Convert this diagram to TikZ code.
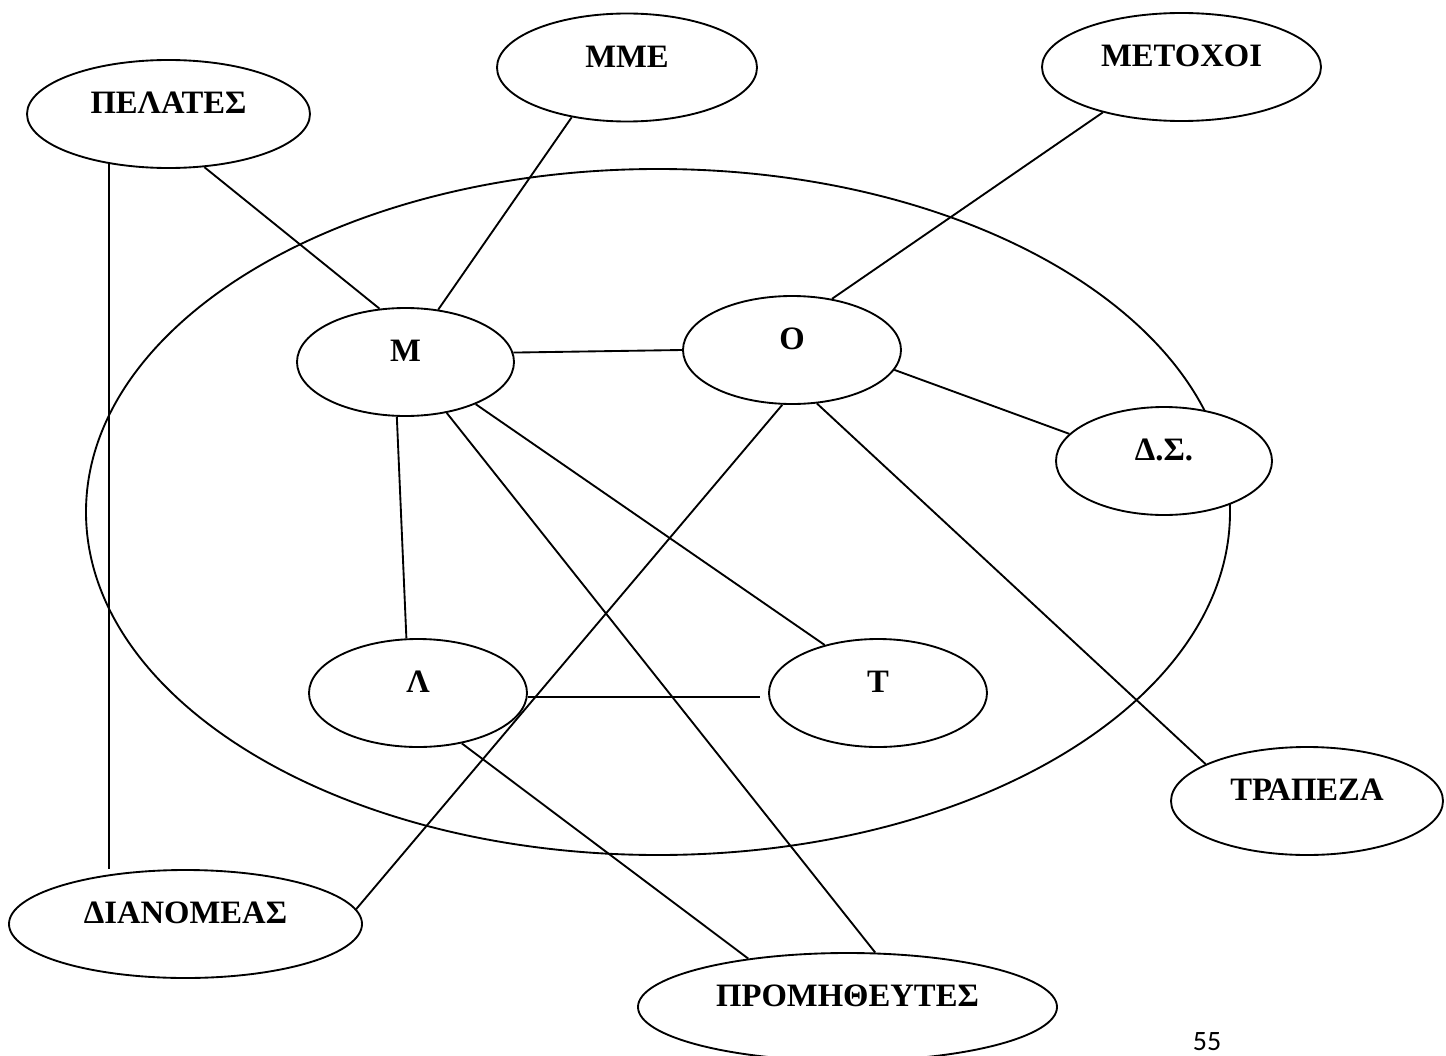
\documentclass[tikz,border=0pt]{standalone}
\usepackage{fontspec}
\setmainfont{Liberation Serif}[BoldFont={Liberation Serif Bold}]
\newfontfamily\pagenumfont{Carlito}
\usetikzlibrary{shapes.geometric,calc}
\begin{document}
\begin{tikzpicture}[x=0.75pt,y=-0.75pt,
  entity/.style={ellipse, draw, fill=white, line width=1.4pt, inner sep=0pt,
    minimum height=81pt, text depth=16.5pt,
    font=\fontsize{24.5}{29}\selectfont\bfseries},
  link/.style={draw, line width=1.4pt}]
\useasboundingbox (0,0) rectangle (1446,1056);

% organisation boundary
\node[ellipse, draw, line width=1.4pt, inner sep=0pt,
  minimum width=858pt, minimum height=514.5pt] (firm) at (658,512) {};

% entities
\node[entity, minimum width=212.25pt] (PEL) at (168.5,114)  {ΠΕΛΑΤΕΣ};
\node[entity, minimum width=195pt]    (MME) at (627,67.5)   {ΜΜΕ};
\node[entity, minimum width=209.25pt] (MET) at (1181.5,67)  {ΜΕΤΟΧΟΙ};
\node[entity, minimum width=162.75pt] (M)   at (405.5,362)  {Μ};
\node[entity, minimum width=163.5pt]  (O)   at (792,350)    {Ο};
\node[entity, minimum width=162pt]    (DS)  at (1164,461)   {Δ.Σ.};
\node[entity, minimum width=163.5pt]  (L)   at (418,693)    {Λ};
\node[entity, minimum width=163.5pt]  (T)   at (878,693)    {Τ};
\node[entity, minimum width=204pt]    (TR)  at (1307,801)   {ΤΡΑΠΕΖΑ};
\node[entity, minimum width=264.75pt] (DI)  at (185.5,924)  {ΔΙΑΝΟΜΕΑΣ};
\node[entity, minimum width=314.25pt] (PR)  at (847.5,1007) {ΠΡΟΜΗΘΕΥΤΕΣ};

% relations
\draw[link] (PEL.-56) -- (M.116.6);
\draw[link] (PEL.-140) -- (PEL.-140 |- DI.north);
\draw[link] (MME.-138.7) -- (M.58.5);
\draw[link] (MET.-150.6) -- (O.52.1);
\draw[link] (M.5.8) -- (O.180);
\draw[link] (O.-11.1) -- (DS.164.1);
\draw[link] (O.-65.5) -- (TR.160.8);
\draw[link] (O.-100.9) -- (DI.5.5);
\draw[link] (M.-99.8) -- (L.102.5);
\draw[link] (M.-31.1) -- (T.138.1);
\draw[link] (M.-51) -- (PR.63.9);
\draw[link] (L.-2.1) -- ($(L.-2.1 -| T.west)+(-6pt,0)$);
\draw[link] (L.-49) -- (PR.154.4);

% page number
\node[font=\pagenumfont\fontsize{21}{25}\selectfont, anchor=base, inner sep=0pt]
  (pagenum) at (1207,1050) {55};
\end{tikzpicture}
\end{document}
